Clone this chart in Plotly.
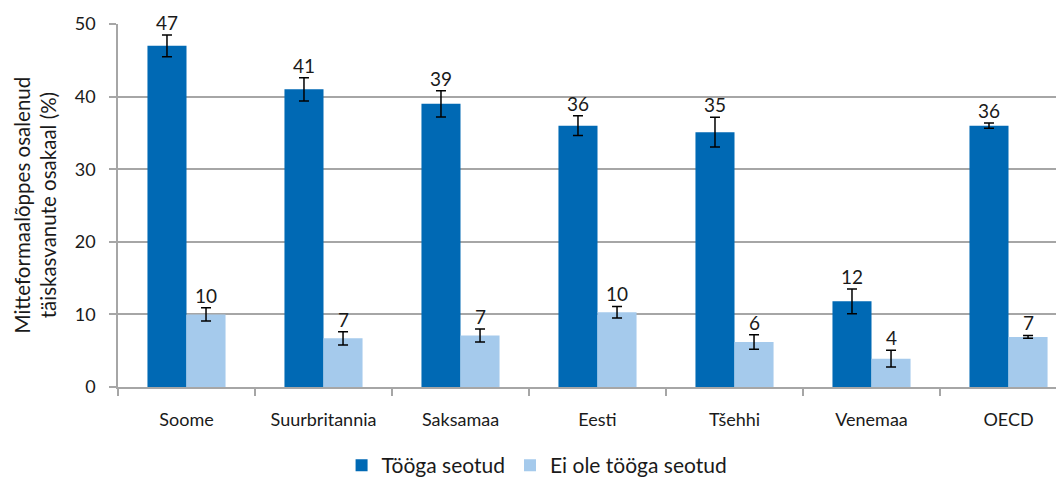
import plotly.graph_objects as go

categories = ["Soome", "Suurbritannia", "Saksamaa", "Eesti", "Tšehhi", "Venemaa", "OECD"]
work_related = [47.0, 41.0, 39.0, 36.0, 35.1, 11.8, 36.0]
work_err = [1.5, 1.6, 1.8, 1.35, 2.05, 1.7, 0.35]
not_work_related = [10.0, 6.7, 7.1, 10.3, 6.2, 3.9, 6.9]
not_work_err = [0.9, 0.9, 0.9, 0.8, 1.0, 1.15, 0.2]
series_names = ["Tööga seotud", "Ei ole tööga seotud"]
y_ticks = [0, 10, 20, 30, 40, 50]

DARK = "#0069B4"
LIGHT = "#A5CAEC"
GRID = "#A6A6A6"
TXT = "#1a1a1a"
FONT = "Lato"
FS = 18

bw = 0.285
idx = list(range(len(categories)))
x_dark = [i - bw / 2 for i in idx]
x_light = [i + bw / 2 for i in idx]

fig = go.Figure()
fig.add_trace(go.Bar(
    x=x_dark, y=work_related, width=bw, name=series_names[0],
    marker=dict(color=DARK, line=dict(width=0)),
    error_y=dict(type="data", array=work_err, color="black", thickness=1.5, width=5),
))
fig.add_trace(go.Bar(
    x=x_light, y=not_work_related, width=bw, name=series_names[1],
    marker=dict(color=LIGHT, line=dict(width=0)),
    error_y=dict(type="data", array=not_work_err, color="black", thickness=1.5, width=5),
))

for xs, vals, errs in [(x_dark, work_related, work_err), (x_light, not_work_related, not_work_err)]:
    for x, v, e in zip(xs, vals, errs):
        fig.add_annotation(x=x, y=v + e, text=str(round(v)), showarrow=False,
                           yanchor="bottom", xanchor="center", yshift=-1,
                           font=dict(family=FONT, size=19, color=TXT))

fig.add_annotation(xref="paper", yref="paper", x=0, y=0.5, xshift=-83,
                   text="Mitteformaalõppes osalenud<br>täiskasvanute osakaal (%)",
                   textangle=-90, showarrow=False, xanchor="center", yanchor="middle",
                   font=dict(family=FONT, size=20.5, color=TXT))

boundaries = [i - 0.5 for i in idx] + [len(idx) - 0.5]

# page body adds an 8px margin, so the figure is sized to fit the window
fig.update_layout(
    width=1056, height=471,
    margin=dict(l=110, r=0, t=16, b=92, pad=0, autoexpand=False),
    plot_bgcolor="white", paper_bgcolor="white",
    barmode="overlay",
    showlegend=True,
    legend=dict(orientation="h", x=0.443, xanchor="center", y=-0.16, yanchor="top",
                font=dict(family=FONT, size=21, color=TXT),
                tracegroupgap=0, traceorder="normal", itemwidth=30),
    font=dict(family=FONT, size=FS, color=TXT),
    xaxis=dict(
        range=[-0.5, 6.405], tickmode="array", tickvals=idx, ticktext=categories,
        ticks="", showgrid=False, zeroline=False,
        showline=True, linecolor=GRID, linewidth=1.5,
        tickfont=dict(family=FONT, size=FS, color=TXT),
        ticklabelstandoff=16,
        minor=dict(tickmode="array", tickvals=boundaries, ticks="outside",
                   ticklen=7, tickcolor=GRID, tickwidth=1.5, showgrid=False),
    ),
    yaxis=dict(
        range=[0, 50], tickmode="array", tickvals=y_ticks,
        showgrid=True, gridcolor=GRID, gridwidth=1.5, zeroline=False,
        showline=True, linecolor=GRID, linewidth=1.5,
        ticks="outside", ticklen=7, tickcolor=GRID, tickwidth=1.5,
        tickfont=dict(family=FONT, size=FS, color=TXT),
        ticklabelstandoff=10,
    ),
)

fig.write_html("out.html")
